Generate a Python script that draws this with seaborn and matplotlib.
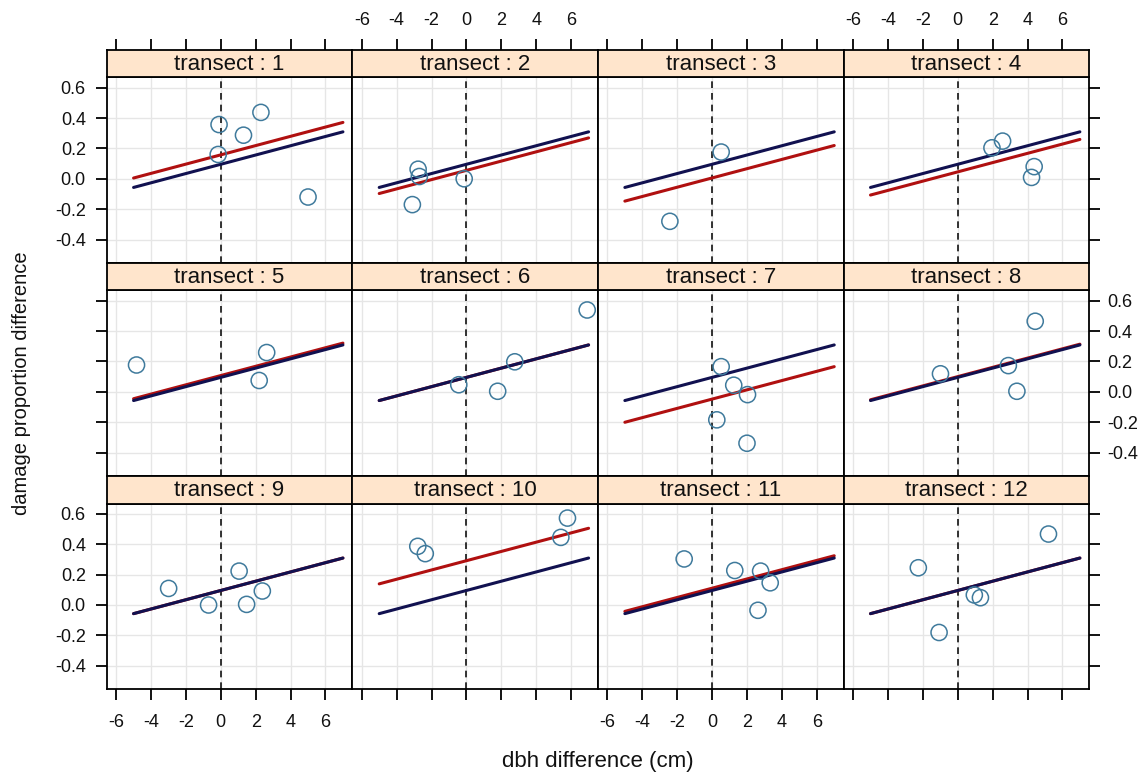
import numpy as np
import pandas as pd
import matplotlib
matplotlib.use("Agg")
import matplotlib.pyplot as plt
import seaborn as sns

# ---------------- data ----------------
transects = list(range(1, 13))
dbh = {
    1: [-0.1, 1.3, 2.3, -0.15, 5.0],
    2: [-2.77, -2.7, -3.1, -0.13],
    3: [0.52, -2.42],
    4: [1.96, 2.57, 4.38, 4.23],
    5: [-4.83, 2.63, 2.2],
    6: [6.92, 2.77, -0.44, 1.79],
    7: [0.52, 1.24, 2.03, 0.27, 2.0],
    8: [4.44, -0.99, 2.9, 3.39],
    9: [-2.99, -0.7, 1.05, 1.48, 2.38],
    10: [-2.79, -2.36, 5.79, 5.41],
    11: [-1.6, 1.3, 2.78, 3.33, 2.63],
    12: [5.2, -2.26, 0.95, 1.3, -1.07],
}
damage = {
    1: [0.357, 0.287, 0.437, 0.16, -0.12],
    2: [0.063, 0.015, -0.17, 0.0],
    3: [0.176, -0.28],
    4: [0.204, 0.248, 0.08, 0.009],
    5: [0.177, 0.259, 0.075],
    6: [0.539, 0.198, 0.047, 0.004],
    7: [0.166, 0.044, -0.018, -0.184, -0.338],
    8: [0.465, 0.119, 0.173, 0.004],
    9: [0.109, 0.0, 0.223, 0.004, 0.092],
    10: [0.386, 0.338, 0.572, 0.445],
    11: [0.303, 0.227, 0.223, 0.146, -0.035],
    12: [0.467, 0.245, 0.066, 0.048, -0.181],
}
fixed_intercept = 0.0955
fixed_slope = 0.0305
transect_offset = [0.062, -0.04, -0.09, -0.05, 0.012, 0.0,
                   -0.143, 0.005, 0.0, 0.196, 0.015, 0.0]
dbh_range = [-5, 7]

x_ticks = [-6, -4, -2, 0, 2, 4, 6]
y_ticks = [-0.4, -0.2, 0.0, 0.2, 0.4, 0.6]
y_tick_labels = ["-0.4", "-0.2", "0.0", "0.2", "0.4", "0.6"]
x_tick_labels = ["-6", "-4", "-2", "0", "2", "4", "6"]
strip_labels = [f"transect : {t}" for t in transects]
xlabel = "dbh difference (cm)"
ylabel = "damage proportion difference"

pts = pd.DataFrame(
    [(t, x, y) for t in transects for x, y in zip(dbh[t], damage[t])],
    columns=["transect", "dbh", "damage"],
)

# ---------------- style ----------------
sns.set_style("white")
plt.rcParams["font.family"] = ["Liberation Sans", "DejaVu Sans"]

W, H = 1146, 774
fig = plt.figure(figsize=(W / 100, H / 100), dpi=100)

left0 = 106.7
col_w = 245.65
top0 = 50.0
strip_h = 27.3
panel_h = 185.8
row_pitch = strip_h + panel_h

XLIM = (-6.54, 7.54)
YLIM = (-0.555, 0.668)

RED = "#b01010"
NAVY = "#111150"
PT = "#3f7a9c"
GRID = "#e6e6e6"
STRIP = "#ffe5cc"
TICKFS = 13
TXT = "#111111"

def frac_rect(x0, y0, w, h):
    return [x0 / W, 1 - (y0 + h) / H, w / W, h / H]

for i, t in enumerate(transects):
    r, c = divmod(i, 4)
    x0 = left0 + c * col_w
    sy = top0 + r * row_pitch
    py = sy + strip_h

    ax = fig.add_axes(frac_rect(x0, py, col_w, panel_h))
    sax = fig.add_axes(frac_rect(x0, sy, col_w, strip_h))

    # panel contents
    ax.set_xlim(XLIM)
    ax.set_ylim(YLIM)
    ax.set_xticks(x_ticks)
    ax.set_yticks(y_ticks)
    ax.grid(True, color=GRID, lw=1.0)
    ax.set_axisbelow(True)
    ax.axvline(0, ls=(0, (4, 3)), color="#111111", lw=1.2, zorder=2)

    xs = np.array(dbh_range, dtype=float)
    red_df = pd.DataFrame({"x": xs, "y": fixed_intercept + transect_offset[i] + fixed_slope * xs})
    blue_df = pd.DataFrame({"x": xs, "y": fixed_intercept + fixed_slope * xs})
    sns.lineplot(data=red_df, x="x", y="y", ax=ax, color=RED, lw=2.2, zorder=3)
    sns.lineplot(data=blue_df, x="x", y="y", ax=ax, color=NAVY, lw=2.2, zorder=3)

    sub = pts[pts["transect"] == t]
    sns.scatterplot(data=sub, x="dbh", y="damage", ax=ax, marker="o", s=135,
                    facecolors="none", edgecolors=PT, linewidth=1.1, zorder=4)

    ax.set_xlabel("")
    ax.set_ylabel("")
    for sp in ax.spines.values():
        sp.set_visible(True)
        sp.set_color("black")
        sp.set_linewidth(1.3)

    # ticks
    ax.tick_params(axis="both", which="both", direction="out", length=8,
                   width=1.3, color="black", labelsize=TICKFS, labelcolor=TXT,
                   bottom=False, top=False, left=False, right=False,
                   labelbottom=False, labeltop=False, labelleft=False, labelright=False)
    ax.set_yticklabels(y_tick_labels)
    ax.set_xticklabels(x_tick_labels)
    if c == 0:
        ax.tick_params(axis="y", left=True, labelleft=(r != 1), pad=7)
    if c == 3:
        ax.tick_params(axis="y", right=True, labelright=(r == 1), pad=5)
    if r == 2:
        ax.tick_params(axis="x", bottom=True, labelbottom=(c in (0, 2)), pad=10)

    # strip
    sax.set_facecolor(STRIP)
    sax.set_xlim(XLIM)
    sax.set_ylim(0, 1)
    sax.set_yticks([])
    sax.set_xticks(x_ticks)
    sax.set_xticklabels(x_tick_labels)
    sax.tick_params(axis="x", direction="out", length=8, width=1.3, color="black",
                    labelsize=TICKFS, labelcolor=TXT,
                    bottom=False, labelbottom=False,
                    top=(r == 0), labeltop=(r == 0 and c in (1, 3)), pad=7)
    for sp in sax.spines.values():
        sp.set_visible(True)
        sp.set_color("black")
        sp.set_linewidth(1.3)
    sax.text(0.5, 0.47, strip_labels[i], transform=sax.transAxes,
             ha="center", va="center", fontsize=16, color=TXT)

fig.text(598 / W, 1 - 762 / H, xlabel, ha="center", va="center",
         fontsize=16, color=TXT)
fig.text(22 / W, 1 - 383 / H, ylabel, ha="center", va="center",
         rotation=90, fontsize=14.5, color=TXT)

fig.savefig("out.png", dpi=100)
